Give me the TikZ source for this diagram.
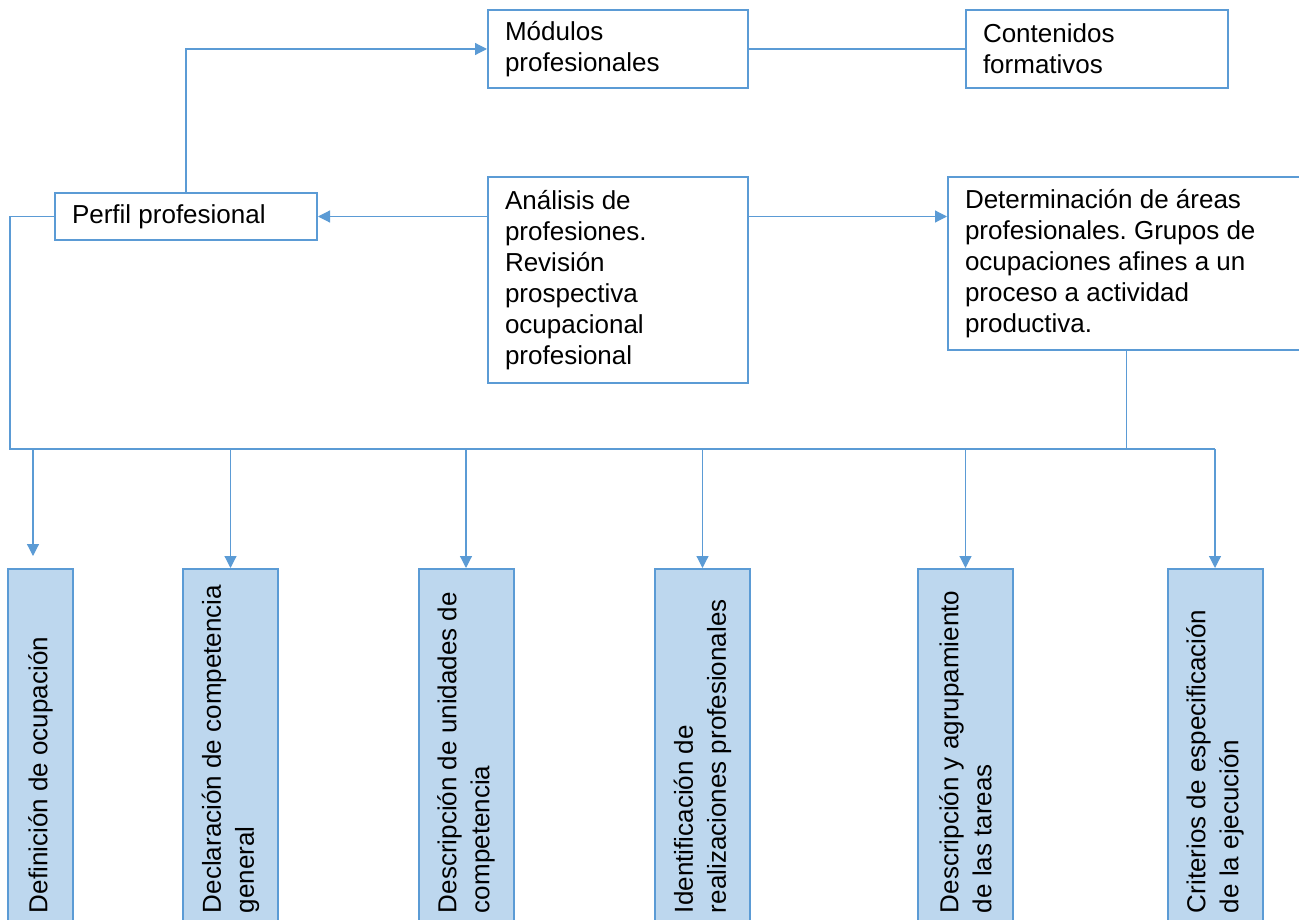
\documentclass[tikz,border=0pt]{standalone}
\usepackage{fontspec}
\setmainfont{Liberation Sans}
\usetikzlibrary{arrows.meta,positioning,calc}
\definecolor{boxblue}{HTML}{5B9BD5}
\definecolor{fillblue}{HTML}{BDD7EE}
\frenchspacing

\begin{document}
\begin{tikzpicture}[x=1pt, y=-1pt,
            every node/.style={font=\fontsize{26}{31}\selectfont},
            topbox/.style={rectangle, draw=boxblue, line width=2pt, fill=white, align=flush left, inner xsep=17pt, inner ysep=0pt},
            vbox/.style={rectangle, draw=boxblue, line width=2pt, fill=fillblue, rotate=90, anchor=east, align=flush left, text width=334pt, inner xsep=10pt, inner ysep=0pt, font=\fontsize{26}{33}\selectfont},
            link/.style={draw=boxblue, line width=1.2pt},
            arrow/.style={link, -{Triangle[length=12pt,width=12pt]}}
        ]
            \useasboundingbox (0,0) rectangle (1299,920);

            % Nodes
            \node (modulos) [topbox, text width=226pt, minimum height=78pt] at (618,49) {Módulos\\profesionales};
            \node (contenidos) [topbox, text width=228pt, minimum height=78pt] at (1097,49) {Contenidos\\formativos};
            \node (perfil) [topbox, text width=228pt, minimum height=47pt] at (186,216.5) {Perfil profesional};
            \node (analisis) [topbox, text width=226pt, minimum height=206pt] at (618,280) {Análisis de\\profesiones.\\Revisión\\prospectiva\\ocupacional\\profesional};
            \node (areas) [topbox, text width=323pt, minimum height=173pt] at (1126.5,263.5) {Determinación de áreas\\profesionales. Grupos de\\ocupaciones afines a un\\proceso a actividad\\productiva.};

            \node (ocupacion) [vbox, minimum height=65pt] at (40.5,568) {Definición de ocupación};
            \node (declaracion) [vbox, minimum height=95pt] at (230.5,568) {Declaración de competencia\\general};
            \node (unidades) [vbox, minimum height=95pt] at (466,568) {Descripción de unidades de\\competencia};
            \node (realizaciones) [vbox, minimum height=95pt] at (702.5,568) {Identificación de\\realizaciones profesionales};
            \node (tareas) [vbox, minimum height=95pt] at (965.5,568) {Descripción y agrupamiento\\de las tareas};
            \node (criterios) [vbox, minimum height=95pt] at (1215,568) {Criterios de especificación\\de la ejecución};

            \coordinate (busL) at (10,449);
            \coordinate (busR) at (criterios.east |- busL);
            \coordinate (tip) at (33,556);

            % Arrows
            \draw [arrow] (perfil.north) |- (modulos.west);
            \draw [link] (modulos.east) -- (contenidos.west);
            \draw [arrow] (analisis.west |- perfil.east) -- (perfil.east);
            \draw [arrow] (analisis.east |- perfil.east) -- (areas.west |- perfil.east);
            \draw [link] (perfil.west) -| (busL) -- (busR);
            \draw [link] (areas.south) -- (areas.south |- busL);
            \draw [arrow] (tip |- busL) -- (tip);
            \foreach \b in {declaracion,unidades,realizaciones,tareas,criterios}
                \draw [arrow] (\b.east |- busL) -- (\b.east);
        \end{tikzpicture}
\end{document}
